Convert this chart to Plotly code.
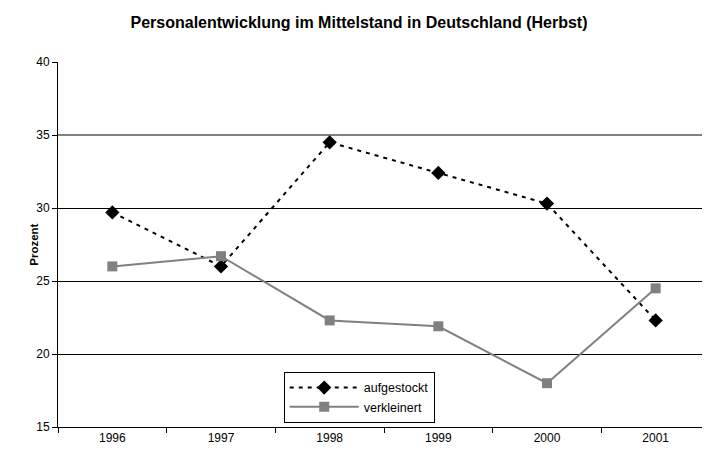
import plotly.graph_objects as go

years = ["1996", "1997", "1998", "1999", "2000", "2001"]
aufgestockt = [29.7, 26.0, 34.5, 32.4, 30.3, 22.3]
verkleinert = [26.0, 26.7, 22.3, 21.9, 18.0, 24.5]
y_ticks = [15, 20, 25, 30, 35, 40]
y_range = [15, 40]

fig = go.Figure()
# empty helper traces so the grid-only overlay axes get drawn
for ax in ("y2", "y3"):
    fig.add_trace(go.Scatter(x=[], y=[], yaxis=ax, showlegend=False,
                             hoverinfo="skip", mode="lines"))
fig.add_trace(go.Scatter(
    x=years, y=aufgestockt, name="aufgestockt", mode="lines+markers",
    line=dict(color="black", width=2, dash="4px,5px"),
    marker=dict(symbol="diamond", size=11, color="black"),
))
fig.add_trace(go.Scatter(
    x=years, y=verkleinert, name="verkleinert", mode="lines+markers",
    line=dict(color="#808080", width=2),
    marker=dict(symbol="square", size=10, color="#808080"),
))

fig.add_annotation(
    text="<b>Prozent</b>", textangle=-90, showarrow=False,
    xref="paper", yref="paper", x=-0.038, y=0.5,
    xanchor="center", yanchor="middle", font=dict(size=11.5, color="black"),
)

fig.update_layout(
    width=702, height=444,
    margin=dict(l=50, r=0, t=54, b=25),
    paper_bgcolor="white", plot_bgcolor="white",
    font=dict(family="Liberation Sans, Arial, sans-serif", size=12, color="black"),
    title=dict(text="<b>Personalentwicklung im Mittelstand in Deutschland (Herbst)</b>",
               x=0.5, xanchor="center", xref="container", y=0.968, yanchor="middle",
               font=dict(size=16, color="black")),
    showlegend=True,
    legend=dict(x=0.462, y=0.011, xanchor="center", yanchor="bottom",
                bgcolor="white", bordercolor="black", borderwidth=1,
                font=dict(size=12.5), tracegroupgap=0, itemwidth=69),
    yaxis2=dict(overlaying="y", range=y_range, tickvals=[v for v in y_ticks if 15 < v < 35],
                showgrid=True, gridcolor="black", gridwidth=1, showticklabels=False,
                ticks="", showline=False, zeroline=False, automargin=False),
    yaxis3=dict(overlaying="y", range=y_range, tickvals=[v for v in y_ticks if v >= 35],
                showgrid=True, gridcolor="#808080", gridwidth=2, showticklabels=False,
                ticks="", showline=False, zeroline=False, automargin=False),
)
fig.update_xaxes(
    type="category", range=[-0.5, 5.5], automargin=False,
    showline=True, linecolor="black", linewidth=1,
    ticks="outside", tickson="boundaries", ticklen=5, tickcolor="black",
    showgrid=False, zeroline=False, tickfont=dict(size=12),
)
fig.update_layout(yaxis=dict(
    range=y_range, tickvals=y_ticks, automargin=False,
    showline=True, linecolor="black", linewidth=1,
    ticks="outside", ticklen=5, tickcolor="black", tickfont=dict(size=12),
    showgrid=False, zeroline=False,
))
fig.write_html("out.html")
